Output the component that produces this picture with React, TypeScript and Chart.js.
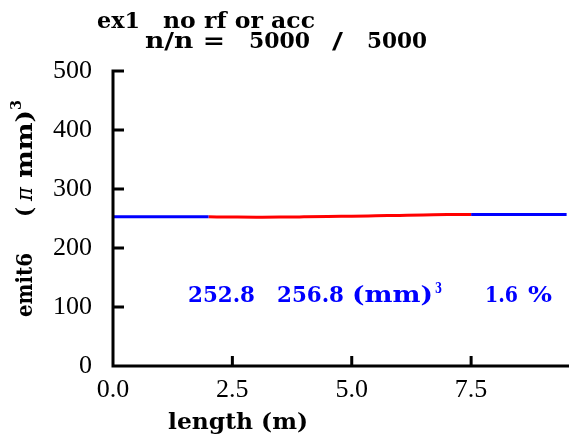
import React, { useEffect, useRef } from "react";
import { Chart, registerables } from "chart.js";

Chart.register(...registerables);

const blueStartX = [0, 2.0];
const blueStartY = [252.8, 252.8];
const redX = [2.0, 2.5, 3.0, 3.5, 4.0, 4.5, 5.0, 5.5, 6.0, 6.5, 7.0, 7.5];
const redY = [252.8, 252.5, 252.3, 252.4, 252.8, 253.3, 254.0, 254.6, 255.2, 255.8, 256.6, 256.8];
const blueEndX = [7.5, 9.5];
const blueEndY = [256.8, 256.8];

const xTicks = [0, 2.5, 5.0, 7.5];
const yTicks = [0, 100, 200, 300, 400, 500];
const xMax = 9.55;
const yMax = 500;

const titleLine1 = ["ex1", "no rf or acc"];
const titleLine2 = ["n/n =", "5000", "/", "5000"];
const xTitle = "length (m)";
const yTitle = ["emit6", "(", "\u03c0", "mm)", "3"];
const annot = ["252.8", "256.8", "(mm)", "3", "1.6", "%"];

const toPts = (xs: number[], ys: number[]) => xs.map((x, i) => ({ x, y: ys[i] }));

function fitText(ctx: CanvasRenderingContext2D, s: string, x: number, y: number, w: number, font: string) {
  ctx.save();
  ctx.font = font;
  const m = ctx.measureText(s).width;
  const k = w / m;
  ctx.translate(x, y);
  ctx.scale(k, 1);
  ctx.textAlign = "left";
  ctx.textBaseline = "alphabetic";
  ctx.fillText(s, 0, 0);
  ctx.restore();
}

const B = (sz: number) => `bold ${sz}px "DejaVu Serif"`;
const TICK_FAMILY = '"Liberation Serif", "Times New Roman", serif';

const decor = {
  id: "decor",
  afterDatasetsDraw(chart: any) {
    const ctx: CanvasRenderingContext2D = chart.ctx;
    const xs = chart.scales.x;
    const ys = chart.scales.y;
    const L = xs.left, R = xs.right, T = ys.top, Bt = ys.bottom;
    ctx.save();
    ctx.strokeStyle = "#000";
    ctx.lineWidth = 3;
    ctx.lineCap = "butt";
    ctx.beginPath();
    ctx.moveTo(L, T - 1.5);
    ctx.lineTo(L, Bt + 1.5);
    ctx.moveTo(L - 1.5, Bt);
    ctx.lineTo(R, Bt);
    for (const v of yTicks) {
      if (v === 0) continue;
      const py = ys.getPixelForValue(v);
      ctx.moveTo(L, py);
      ctx.lineTo(L + 11, py);
    }
    for (const v of xTicks) {
      if (v === 0) continue;
      const px = xs.getPixelForValue(v);
      ctx.moveTo(px, Bt);
      ctx.lineTo(px, Bt - 10);
    }
    ctx.stroke();

    // title
    ctx.fillStyle = "#000";
    fitText(ctx, titleLine1[0], 97, 28, 43, B(23));
    fitText(ctx, titleLine1[1], 163, 28, 152, B(23));
    fitText(ctx, titleLine2[0], 145, 48, 80, B(23));
    fitText(ctx, titleLine2[1], 249, 48, 61, B(23));
    fitText(ctx, titleLine2[2], 332, 48, 11, B(23));
    fitText(ctx, titleLine2[3], 367, 48, 60, B(23));

    // x title
    fitText(ctx, xTitle, 168, 429, 140, B(23));

    // y title (rotated)
    ctx.save();
    ctx.translate(32, 0);
    ctx.rotate(-Math.PI / 2);
    fitText(ctx, yTitle[0], -317, 0, 64, B(23));
    fitText(ctx, yTitle[1], -217, 0, 10, B(23));
    fitText(ctx, yTitle[2], -201, 0, 14, `italic 23px "DejaVu Serif"`);
    fitText(ctx, yTitle[3], -178, 0, 68, B(23));
    fitText(ctx, yTitle[4], -110, -11, 10, B(15));
    ctx.restore();

    // annotations
    ctx.fillStyle = "#0000ff";
    fitText(ctx, annot[0], 188, 302, 67, B(23));
    fitText(ctx, annot[1], 277, 302, 67, B(23));
    fitText(ctx, annot[2], 352, 302, 81, B(23));
    fitText(ctx, annot[3], 435, 293, 7, B(15));
    fitText(ctx, annot[4], 485, 302, 33, B(23));
    fitText(ctx, annot[5], 528, 302, 24, B(23));
    ctx.restore();
  },
};

export default function App() {
  const ref = useRef<HTMLCanvasElement>(null);
  useEffect(() => {
    if (!ref.current) return;
    const ds = (pts: any, color: string) => ({
      data: pts,
      borderColor: color,
      backgroundColor: color,
      borderWidth: 3,
      pointRadius: 0,
      tension: 0.3,
      cubicInterpolationMode: "monotone" as const,
      fill: false,
    });
    const chart = new Chart(ref.current, {
      type: "line",
      data: {
        datasets: [
          ds(toPts(blueStartX, blueStartY), "#0000ff"),
          ds(toPts(redX, redY), "#ff0000"),
          ds(toPts(blueEndX, blueEndY), "#0000ff"),
        ],
      },
      options: {
        animation: false,
        responsive: false,
        maintainAspectRatio: false,
        layout: { padding: { top: 71, right: 0, left: 0, bottom: 0 } },
        plugins: { legend: { display: false }, tooltip: { enabled: false }, title: { display: false } },
        scales: {
          x: {
            type: "linear",
            min: 0,
            max: xMax,
            grid: { display: false, drawTicks: false },
            border: { display: false },
            ticks: {
              includeBounds: false,
              stepSize: 2.5,
              padding: 9,
              maxRotation: 0,
              autoSkip: false,
              color: "#000",
              font: { family: TICK_FAMILY, size: 26 },
              callback: (v: any) => Number(v).toFixed(1),
            },
            afterFit: (s: any) => { s.height = 72; },
          },
          y: {
            type: "linear",
            min: 0,
            max: yMax,
            grid: { display: false, drawTicks: false },
            border: { display: false },
            ticks: {
              includeBounds: false,
              stepSize: 100,
              padding: 21,
              color: "#000",
              font: { family: TICK_FAMILY, size: 26 },
            },
            afterFit: (s: any) => { s.width = 113; },
          },
        },
      },
      plugins: [decor],
    });
    return () => chart.destroy();
  }, []);
  return (
    <div style={{ position: "fixed", left: 0, top: 0, width: 569, height: 438, background: "#fff" }}>
      <canvas ref={ref} width={569} height={438} style={{ display: "block" }} />
    </div>
  );
}
